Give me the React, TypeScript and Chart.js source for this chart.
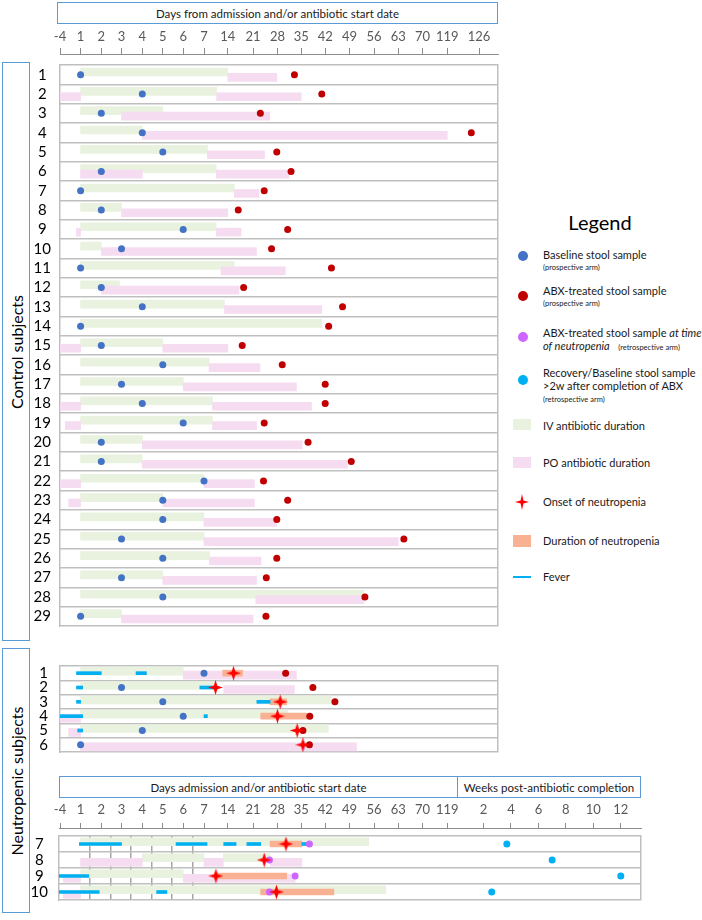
import React, { useEffect, useRef } from 'react';
import { Chart, Scale, registerables } from 'chart.js';

Chart.register(...registerables);

const FONT = 'Lato, "Open Sans", "DejaVu Sans", sans-serif';
Chart.defaults.font.family = FONT;

// ---------------- axis ticks (broken axis) ----------------
const dayTickLabels = [-4, 1, 2, 3, 4, 5, 6, 7, 14, 21, 28, 35, 42, 49, 56, 63, 70, 119, 126];
const dayTickSlots = [0, 20.6, 41.3, 61.5, 82.3, 102.8, 123.2, 144, 167.8, 193, 217.5, 241.2, 265.2, 289.5, 314, 338.3, 362.6, 387.3, 419];
const bottomDayTickLabels = [-4, 1, 2, 3, 4, 5, 6, 7, 14, 21, 28, 35, 42, 49, 56, 63, 70, 119];
const weekTickLabels = [2, 4, 6, 8, 10, 12];
const weekStops = [2, 12];
const weekSlots = [25.5, 162.8];
const dayDividers = [1.45, 2.45, 3.45, 4.45, 5.45, 6.45];

// ---------------- control subjects ----------------
const controlIds = [1, 2, 3, 4, 5, 6, 7, 8, 9, 10, 11, 12, 13, 14, 15, 16, 17, 18, 19, 20, 21, 22, 23, 24, 25, 26, 27, 28, 29];
const controlIV: [number, number][] = [
  [1, 14], [1, 10.7], [1, 5], [1, 4], [1, 8], [1, 10.6], [1, 15.8], [1, 3], [1, 10.6], [1, 2],
  [1, 15.8], [1, 2.9], [1, 13], [1, 41], [1, 5], [1, 8.5], [1, 6], [1, 9.5], [1, 9.5], [1, 4],
  [1, 4], [1, 7], [1, 5], [1, 7], [1, 7], [1, 8.6], [1, 5], [1, 53.1], [1, 3],
];
const controlPO: [number, number][][] = [
  [[14, 27.8]], [[-5, 1], [10.7, 35]], [[3, 25.8]], [[4, 119]], [[8, 24.3]], [[1, 4], [10.6, 31.4]], [[15.8, 22.7]], [[3, 14]], [[0, 1], [10.6, 17.7]], [[2, 22]],
  [[12, 30.3]], [[2, 17.1]], [[13, 41]], [], [[-5, 1], [5, 14]], [[8.5, 23]], [[6, 33.6]], [[-5, 1], [9.5, 38]], [[-2.7, 1], [9.5, 22]], [[4, 35.3]],
  [[4, 48.4]], [[-4, 1], [7, 21.4]], [[-1.9, 1], [5, 21.4]], [[7, 27.7]], [[7, 63]], [[8.6, 23.3]], [[5, 22]], [[21.8, 53.1]], [[3, 21]],
];
const controlBaseline = [1, 4, 2, 4, 5, 2, 1, 2, 6, 3, 1, 2, 4, 1, 2, 5, 3, 4, 6, 2, 2, 7, 5, 5, 3, 5, 3, 5, 1];
const controlTreated = [33, 41, 23.1, 124.3, 27.8, 32, 24.2, 16.9, 31, 26.3, 43.8, 18.4, 47, 43, 18, 29.4, 42, 42, 24.2, 37, 49.5, 24, 31, 27.8, 64.6, 27.8, 24.8, 53.4, 24.7];

// ---------------- neutropenic subjects 1-6 ----------------
const neutroIds = [1, 2, 3, 4, 5, 6];
const neutroIV: [number, number][][] = [[[1, 6]], [[1, 9.9]], [[1, 43.8]], [[1, 31]], [[1, 42.9]], []];
const neutroPO: [number, number][][] = [[[6, 33.6]], [[12.8, 33]], [], [[-4, 1]], [[-1.9, 1]], [[1, 51]]];
const neutroFever: [number, number][][] = [[[0, 2], [3.7, 4.2]], [[0, 1.1], [6.8, 9.9]], [[0, 1], [22.1, 25.9]], [[-5.7, 1.1], [7, 8]], [[0.3, 1.1]], []];
const neutroDuration: [number, number][][] = [[[12.5, 18.1]], [], [[25.9, 30.7]], [[23.2, 36.6]], [], []];
const neutroOnset = [15.6, 10.4, 28.8, 28, 33.8, 35.5];
const neutroBaseline = [7, 3, 5, 6, 4, 1];
const neutroTreated = [30.4, 38.4, 44.8, 37.5, 35.5, 37.4];

// ---------------- neutropenic subjects 7-10 (retrospective) ----------------
const retroIds = [7, 8, 9, 10];
const retroIV: [number, number][][] = [[[1, 54.5]], [[4, 7], [12.7, 25.9]], [[1, 6]], [[1, 59.4]]];
const retroPO: [number, number][][] = [[], [[1, 4], [7, 12.7], [25.9, 35.2]], [[-3.2, 1], [6, 33.2]], [[-3.2, 1]]];
const retroFever: [number, number][][] = [[[0.7, 3], [5.65, 7.9], [12.8, 16.3], [19.3, 23.2], [35.2, 36.9]], [], [[-5.2, 1.4]], [[-5.2, 1.9], [4.7, 5.2]]];
const retroDuration: [number, number][][] = [[[25.9, 35.2]], [], [[10.1, 30.7]], [[23.2, 44.5]]];
const retroOnset = [30.5, 24.2, 10.5, 27.7];
const retroNeutroSample = [37.4, 25.7, 33.2, 25.7];
const retroRecoveryWeek = [3.7, 7, 12, 2.6];

const COLORS = {
  iv: '#e8f2df',
  po: '#f5dcf1',
  baseline: '#4472c4',
  treated: '#c00000',
  neutroSample: '#cc66ff',
  recovery: '#00b0f0',
  onset: '#ff0000',
  duration: '#f8b293',
  fever: '#00b0f0',
  grid: '#bfbfbf',
  divider: '#a6a6a6',
  axis: '#8c8c8c',
  tick: '#595959',
  frame: '#5b9bd5',
};

// ---------------- piecewise (broken) axis scale ----------------
type SegDef = { stops: number[]; slots: number[]; range: [number, number]; ticks: number[] };
const SEG_AXES: Record<string, SegDef> = {
  top: { stops: dayTickLabels, slots: dayTickSlots, range: [0, 438], ticks: dayTickLabels },
  days: { stops: dayTickLabels, slots: dayTickSlots, range: [-1, 398], ticks: bottomDayTickLabels },
  daysGrid: { stops: dayTickLabels, slots: dayTickSlots, range: [-1, 581], ticks: dayDividers },
  weeks: { stops: weekStops, slots: weekSlots, range: [0, 183], ticks: weekTickLabels },
};

class SegmentScale extends Scale {
  static id = 'segment';
  static defaults = { ticks: { autoSkip: false, maxRotation: 0, minRotation: 0 } };
  segDef(): SegDef {
    return SEG_AXES[(this as any).options.segKey];
  }
  toUnit(v: number): number {
    const { stops, slots } = this.segDef();
    const n = stops.length;
    let i = 0;
    while (i < n - 2 && v > stops[i + 1]) i++;
    return slots[i] + ((v - stops[i]) * (slots[i + 1] - slots[i])) / (stops[i + 1] - stops[i]);
  }
  fromUnit(u: number): number {
    const { stops, slots } = this.segDef();
    const n = slots.length;
    let i = 0;
    while (i < n - 2 && u > slots[i + 1]) i++;
    return stops[i] + ((u - slots[i]) * (stops[i + 1] - stops[i])) / (slots[i + 1] - slots[i]);
  }
  determineDataLimits() {
    const t = this.segDef().ticks;
    (this as any).min = t[0];
    (this as any).max = t[t.length - 1];
  }
  buildTicks() {
    return this.segDef().ticks.map((value) => ({ value }));
  }
  getLabelForValue(value: number) {
    return String(value);
  }
  getPixelForValue(value: number) {
    const [a, b] = this.segDef().range;
    return (this as any).getPixelForDecimal((this.toUnit(value) - a) / (b - a));
  }
  getValueForPixel(pixel: number) {
    const [a, b] = this.segDef().range;
    return this.fromUnit(a + (this as any).getDecimalForPixel(pixel) * (b - a));
  }
}
Chart.register(SegmentScale as any);

// ---------------- helpers ----------------
function makeStar(size: number, color: string) {
  const c = document.createElement('canvas');
  c.width = size;
  c.height = size;
  const ctx = c.getContext('2d')!;
  const m = size / 2;
  const w = size * 0.12;
  ctx.beginPath();
  ctx.moveTo(m, 0);
  ctx.lineTo(m + w, m - w);
  ctx.lineTo(size, m);
  ctx.lineTo(m + w, m + w);
  ctx.lineTo(m, size);
  ctx.lineTo(m - w, m + w);
  ctx.lineTo(0, m);
  ctx.lineTo(m - w, m - w);
  ctx.closePath();
  ctx.fillStyle = color;
  ctx.fill();
  return c;
}

const segRows = (segs: [number, number][][]) => segs.flatMap((s, i) => s.map((r) => ({ x: r, y: i + 1 })));
const pointRows = (vals: number[]) => vals.map((v, i) => ({ x: v, y: i + 1 }));
const rangeRows = (vals: [number, number][]) => vals.map((r, i) => ({ x: r, y: i + 1 }));

const bars = (label: string, data: any[], yAxisID: string, color: string, thickness: number, order: number, xAxisID = 'x') => ({
  type: 'bar', label, data, indexAxis: 'y', xAxisID, yAxisID, grouped: false,
  barThickness: thickness, backgroundColor: color, borderWidth: 0, order,
});
const dots = (label: string, data: any[], color: string, radius: number, order: number, xAxisID = 'x', style: any = 'circle') => ({
  type: 'scatter', label, data, xAxisID, yAxisID: 'y', pointRadius: radius, pointHoverRadius: radius,
  pointStyle: style, backgroundColor: color, borderColor: color, borderWidth: 0, pointBorderWidth: 0, order,
});

function rowScales(ids: number[], leftWidth: number, labelPad: number) {
  const n = ids.length;
  const lo = 0.5;
  const hi = n + 0.5;
  const hidden = (shift: number) => ({
    type: 'linear', axis: 'y', display: false, reverse: true, min: lo + shift, max: hi + shift,
    bounds: 'data', offset: false, grid: { offset: false },
  });
  return {
    y: {
      type: 'linear', axis: 'y', position: 'left', reverse: true, min: lo, max: hi, bounds: 'data', offset: false,
      afterBuildTicks: (s: any) => { s.ticks = ids.map((_, i) => ({ value: i + 1 })); },
      afterFit: (s: any) => { s.width = leftWidth; },
      ticks: {
        autoSkip: false, crossAlign: 'center', padding: labelPad, color: '#000',
        font: { family: FONT, size: 15 }, callback: (_v: any, i: number) => String(ids[i]),
      },
      grid: { display: false, drawTicks: false, offset: false },
      border: { display: true, color: COLORS.grid, width: 1.5 },
    },
    yg: {
      type: 'linear', axis: 'y', position: 'right', reverse: true, min: lo, max: hi, bounds: 'data', offset: false,
      afterBuildTicks: (s: any) => { s.ticks = [...ids.map((_, i) => ({ value: i + 0.5 })), { value: hi }]; },
      afterFit: (s: any) => { s.width = 0; },
      ticks: { display: false },
      grid: { display: true, drawTicks: false, color: COLORS.grid, lineWidth: 1.5, offset: false },
      border: { display: true, color: COLORS.grid, width: 1.5 },
    },
    yIV: hidden(0.14),
    yPO: hidden(-0.14),
  };
}

const labelAxis = (segKey: string, height: number, tickLength: number, padding: number, extra: any = {}) => ({
  type: 'segment', segKey, axis: 'x', position: 'top', weight: 2, offset: false,
  afterFit: (s: any) => { s.height = height; },
  grid: { display: true, drawOnChartArea: false, drawTicks: true, tickLength, color: COLORS.axis, lineWidth: 1, offset: false },
  border: { display: true, color: COLORS.axis, width: 1 },
  ticks: { autoSkip: false, maxRotation: 0, minRotation: 0, padding, color: COLORS.tick, font: { family: FONT, size: 13 } },
  ...extra,
});
const spacerAxis = (height: number) => ({
  type: 'linear', axis: 'x', position: 'top', weight: 0, offset: false,
  afterFit: (s: any) => { s.height = height; },
  ticks: { display: false },
  grid: { display: false, drawTicks: false, offset: false },
  border: { display: false },
});

const baseOptions = (padding: any, scales: any) => ({
  responsive: false,
  animation: false,
  events: [],
  devicePixelRatio: 1,
  layout: { padding },
  plugins: { legend: { display: false }, tooltip: { enabled: false } },
  scales,
});

// ---------------- chart configs ----------------
function buildControl() {
  return {
    type: 'scatter',
    data: {
      datasets: [
        bars('IV antibiotic duration', rangeRows(controlIV), 'yIV', COLORS.iv, 8, 10),
        bars('PO antibiotic duration', segRows(controlPO), 'yPO', COLORS.po, 8, 9),
        dots('Baseline stool sample', pointRows(controlBaseline), COLORS.baseline, 3.5, 2),
        dots('ABX-treated stool sample', pointRows(controlTreated), COLORS.treated, 3.5, 1),
      ],
    },
    options: baseOptions({ left: 0, right: 204, top: 0, bottom: 3 }, {
      x: labelAxis('top', 29, 6, 3),
      xs: spacerAxis(11),
      ...rowScales(controlIds, 60, 9),
    }),
  };
}

function buildNeutro() {
  const star = makeStar(15, COLORS.onset);
  return {
    type: 'scatter',
    data: {
      datasets: [
        bars('IV antibiotic duration', segRows(neutroIV), 'yIV', COLORS.iv, 8, 10),
        bars('PO antibiotic duration', segRows(neutroPO), 'yPO', COLORS.po, 8, 9),
        bars('Duration of neutropenia', segRows(neutroDuration), 'y', COLORS.duration, 6, 7),
        bars('Fever', segRows(neutroFever), 'y', COLORS.fever, 3, 6),
        dots('Baseline stool sample', pointRows(neutroBaseline), COLORS.baseline, 3.5, 3),
        dots('ABX-treated stool sample', pointRows(neutroTreated), COLORS.treated, 3.5, 2),
        dots('Onset of neutropenia', pointRows(neutroOnset), COLORS.onset, 7, 0, 'x', star),
      ],
    },
    options: baseOptions({ left: 0, right: 204, top: 4, bottom: 5 }, {
      x: { type: 'segment', segKey: 'top', axis: 'x', position: 'top', display: false, offset: false, grid: { offset: false } },
      ...rowScales(neutroIds, 60, 12),
    }),
  };
}

function buildRetro() {
  const star = makeStar(15, COLORS.onset);
  return {
    type: 'scatter',
    data: {
      datasets: [
        bars('IV antibiotic duration', segRows(retroIV), 'yIV', COLORS.iv, 8, 10, 'xd'),
        bars('PO antibiotic duration', segRows(retroPO), 'yPO', COLORS.po, 8, 9, 'xd'),
        bars('Duration of neutropenia', segRows(retroDuration), 'y', COLORS.duration, 6, 7, 'xd'),
        bars('Fever', segRows(retroFever), 'y', COLORS.fever, 3, 6, 'xd'),
        dots('ABX-treated stool sample at time of neutropenia', pointRows(retroNeutroSample), COLORS.neutroSample, 3.5, 2, 'xd'),
        dots('Recovery/Baseline stool sample', pointRows(retroRecoveryWeek), COLORS.recovery, 3.5, 2, 'xw'),
        dots('Onset of neutropenia', pointRows(retroOnset), COLORS.onset, 7, 0, 'xd', star),
      ],
    },
    options: baseOptions({ left: 0, right: 61, top: 0, bottom: 6 }, {
      xd: labelAxis('days', 31, 5, 5, { stack: 'bottomAxis', stackWeight: 399, weight: 2 }),
      xw: labelAxis('weeks', 31, 5, 5, { stack: 'bottomAxis', stackWeight: 183, weight: 1 }),
      xs: spacerAxis(8),
      xg: {
        type: 'segment', segKey: 'daysGrid', axis: 'x', position: 'bottom', offset: false,
        afterFit: (s: any) => { s.height = 0; },
        ticks: { display: false },
        grid: { display: true, drawTicks: false, color: COLORS.divider, lineWidth: 1.5, offset: false },
        border: { display: false },
      },
      ...rowScales(retroIds, 59, 11),
    }),
  };
}

// ---------------- components ----------------
function PanelChart({ top, height, build }: { top: number; height: number; build: () => any }) {
  const ref = useRef<HTMLCanvasElement>(null);
  useEffect(() => {
    if (!ref.current) return;
    const chart = new Chart(ref.current, build());
    return () => chart.destroy();
  }, [build]);
  return (
    <canvas ref={ref} width={702} height={height}
      style={{ position: 'absolute', left: 0, top, width: 702, height, display: 'block' }} />
  );
}

function HeaderBox({ left, top, width, height, text }: any) {
  return (
    <div style={{
      position: 'absolute', left, top, width, height, boxSizing: 'border-box',
      border: `1.5px solid ${COLORS.frame}`, display: 'flex', alignItems: 'center', justifyContent: 'center',
      fontSize: 11.5, color: '#1a1a1a', whiteSpace: 'nowrap',
    }}>{text}</div>
  );
}

function SideBox({ top, height, text }: any) {
  return (
    <div style={{ position: 'absolute', left: 2, top, width: 28, height, boxSizing: 'border-box', border: `1.5px solid ${COLORS.frame}` }}>
      <div style={{
        position: 'absolute', left: '50%', top: '50%', transform: 'translate(-50%, -50%) rotate(-90deg)',
        whiteSpace: 'nowrap', fontSize: 16, color: '#000', lineHeight: '19px',
      }}>{text}</div>
    </div>
  );
}

const Txt = ({ cy, size = 11, children }: any) => (
  <div style={{
    position: 'absolute', left: 543, top: cy - size * 0.6, fontSize: size, lineHeight: `${size * 1.2}px`,
    whiteSpace: 'nowrap', color: '#1a1a1a',
  }}>{children}</div>
);
const Dot = ({ cy, color }: any) => (
  <div style={{ position: 'absolute', left: 518, top: cy - 5, width: 10, height: 10, borderRadius: '50%', background: color }} />
);
const Swatch = ({ top, height, color }: any) => (
  <div style={{ position: 'absolute', left: 513, top, width: 18, height, background: color }} />
);

function Legend() {
  return (
    <>
      <div style={{ position: 'absolute', left: 540, top: 209, width: 120, textAlign: 'center', fontSize: 20, lineHeight: '26px', color: '#000' }}>Legend</div>
      <Dot cy={256} color={COLORS.baseline} />
      <Txt cy={254.3}>Baseline stool sample</Txt>
      <Txt cy={267.7} size={7.5}>(prospective arm)</Txt>
      <Dot cy={295.7} color={COLORS.treated} />
      <Txt cy={291}>ABX-treated stool sample</Txt>
      <Txt cy={303.3} size={7.5}>(prospective arm)</Txt>
      <Dot cy={336.7} color={COLORS.neutroSample} />
      <Txt cy={332.3}>ABX-treated stool sample <i>at time</i></Txt>
      <Txt cy={345.7}><i>of neutropenia</i>&nbsp;&nbsp;&nbsp;<span style={{ fontSize: 7.5 }}>(retrospective arm)</span></Txt>
      <Dot cy={380} color={COLORS.recovery} />
      <Txt cy={372.3}>Recovery/Baseline stool sample</Txt>
      <Txt cy={385.7}>&gt;2w after completion of ABX</Txt>
      <Txt cy={399} size={7.5}>(retrospective arm)</Txt>
      <Swatch top={418.5} height={11} color={COLORS.iv} />
      <Txt cy={425.7}>IV antibiotic duration</Txt>
      <Swatch top={456.5} height={11} color={COLORS.po} />
      <Txt cy={462.7}>PO antibiotic duration</Txt>
      <svg style={{ position: 'absolute', left: 515, top: 493.5 }} width={14} height={16} viewBox="0 0 14 16">
        <path d="M7 0 L8.4 6.6 L14 8 L8.4 9.4 L7 16 L5.6 9.4 L0 8 L5.6 6.6 Z" fill={COLORS.onset} />
      </svg>
      <Txt cy={501.7}>Onset of neutropenia</Txt>
      <Swatch top={535} height={12} color={COLORS.duration} />
      <Txt cy={540.7}>Duration of neutropenia</Txt>
      <Swatch top={575.5} height={2.5} color={COLORS.fever} />
      <Txt cy={576.7}>Fever</Txt>
    </>
  );
}

export default function App() {
  return (
    <div style={{
      position: 'absolute', left: 0, top: 0, width: 702, height: 920, background: '#fff',
      fontFamily: FONT, overflow: 'hidden',
    }}>
      <HeaderBox left={57} top={2} width={441} height={22} text="Days from admission and/or antibiotic start date" />
      <SideBox top={62} height={579} text="Control subjects" />
      <SideBox top={648} height={265} text="Neutropenic subjects" />
      <HeaderBox left={59} top={776} width={399} height={22} text="Days admission and/or antibiotic start date" />
      <HeaderBox left={457} top={776} width={184} height={22} text="Weeks post-antibiotic completion" />
      <Legend />
      <PanelChart top={25} height={619} build={buildControl} />
      <PanelChart top={645} height={128} build={buildNeutro} />
      <PanelChart top={797} height={123} build={buildRetro} />
    </div>
  );
}
